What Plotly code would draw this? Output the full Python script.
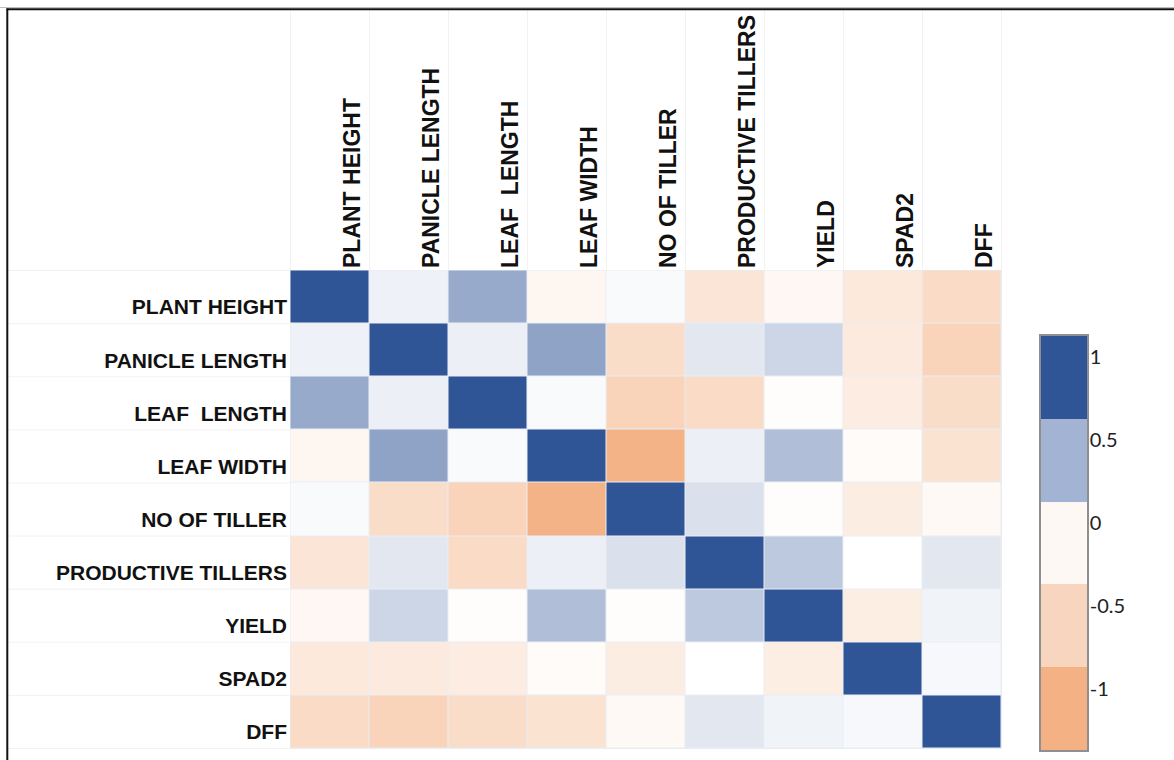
import plotly.graph_objects as go

# Trait names (rows and columns of the correlation matrix)
traits = [
    "PLANT HEIGHT", "PANICLE LENGTH", "LEAF\u00a0\u00a0LENGTH", "LEAF WIDTH",
    "NO OF TILLER", "PRODUCTIVE TILLERS", "YIELD", "SPAD2", "DFF",
]

# Pairwise correlation coefficients
corr = [
    [1.00, 0.08, 0.50, -0.12, 0.03, -0.33, -0.10, -0.28, -0.46],
    [0.08, 1.00, 0.09, 0.54, -0.44, 0.14, 0.24, -0.27, -0.55],
    [0.50, 0.09, 1.00, 0.03, -0.56, -0.46, -0.03, -0.24, -0.44],
    [-0.12, 0.54, 0.03, 1.00, -0.97, 0.09, 0.38, -0.05, -0.36],
    [0.03, -0.44, -0.56, -0.97, 1.00, 0.18, -0.03, -0.23, -0.08],
    [-0.33, 0.14, -0.46, 0.09, 0.18, 1.00, 0.32, 0.00, 0.14],
    [-0.10, 0.24, -0.03, 0.38, -0.03, 0.32, 1.00, -0.22, 0.07],
    [-0.28, -0.27, -0.24, -0.05, -0.23, 0.00, -0.22, 1.00, 0.04],
    [-0.46, -0.55, -0.44, -0.36, -0.08, 0.14, 0.07, 0.04, 1.00],
]

# Key: band values, labels and fills
key_values = [1, 0.5, 0, -0.5, -1]
key_labels = ["1", "0.5", "0", "-0.5", "-1"]
key_colors = ["#2F5597", "#A3B3D3", "#FDF8F4", "#F8D5BE", "#F4B183"]

W, H = 1174, 760


def px_x(p):
    return p / W


def px_y(p):
    return (H - p) / H


main_scale = [[0.0, "#F4B183"], [0.5, "#FFFFFF"], [1.0, "#2F5597"]]

# stepped scale for the key bands (values -1..1 -> 0..1)
key_scale = []
ordered = sorted(zip(key_values, key_colors))
n = len(ordered)
for i, (_, c) in enumerate(ordered):
    key_scale.append([i / n, c])
    key_scale.append([(i + 1) / n, c])

fig = go.Figure()

fig.add_trace(go.Heatmap(
    z=corr, x=traits, y=traits,
    colorscale=main_scale, zmin=-1, zmax=1,
    xgap=1, ygap=1, showscale=False,
    hovertemplate="%{y} / %{x}: %{z}<extra></extra>",
))

fig.add_trace(go.Heatmap(
    z=[[v] for v in key_values], x=[0], y=key_values,
    colorscale=key_scale, zmin=-1.25, zmax=1.25,
    showscale=False, xaxis="x2", yaxis="y2", hoverinfo="skip",
))

# faint sheet gridlines around the matrix
shapes = []
for i in range(len(traits) + 1):
    shapes.append(dict(type="line", xref="x", yref="paper",
                       x0=i - 0.5, x1=i - 0.5, y0=px_y(270), y1=px_y(10),
                       line=dict(color="#F2F2F2", width=1), layer="below"))
    shapes.append(dict(type="line", xref="paper", yref="y",
                       x0=px_x(8), x1=px_x(290), y0=i - 0.5, y1=i - 0.5,
                       line=dict(color="#F2F2F2", width=1), layer="below"))

# page frame
shapes.append(dict(type="line", xref="paper", yref="paper",
                   x0=0, x1=1, y0=px_y(7.5), y1=px_y(7.5),
                   line=dict(color="#BDBDBD", width=1)))
shapes.append(dict(type="line", xref="paper", yref="paper",
                   x0=px_x(6.5), x1=1, y0=px_y(9.2), y1=px_y(9.2),
                   line=dict(color="#111111", width=2)))
shapes.append(dict(type="line", xref="paper", yref="paper",
                   x0=px_x(7.3), x1=px_x(7.3), y0=0, y1=px_y(8.5),
                   line=dict(color="#111111", width=2)))

label_font = dict(family="Liberation Sans, Arial, sans-serif",
                  color="#111111", weight="bold")

fig.update_layout(
    width=W, height=H,
    margin=dict(l=0, r=0, t=0, b=0),
    paper_bgcolor="white", plot_bgcolor="#E9EDF3",
    shapes=shapes,
    xaxis=dict(
        domain=[px_x(290), px_x(1002)], side="top", tickangle=-90,
        showgrid=False, zeroline=False, ticks="", automargin=False,
        tickfont=dict(size=23, **label_font),
        ticklabelshift=23, ticklabelstandoff=1,
        anchor="y",
    ),
    yaxis=dict(
        domain=[px_y(749), px_y(270)],
        categoryorder="array", categoryarray=traits[::-1],
        showgrid=False, zeroline=False, ticks="", automargin=False,
        tickfont=dict(size=21, **label_font),
        ticklabelshift=10, ticklabelstandoff=2,
        anchor="x",
    ),
    xaxis2=dict(
        domain=[px_x(1041), px_x(1087)], anchor="y2",
        showticklabels=False, showgrid=False, zeroline=False,
        showline=True, mirror=True, linecolor="#8F8F8F", linewidth=1.5,
        range=[-0.5, 0.5],
    ),
    yaxis2=dict(
        domain=[px_y(750), px_y(336)], anchor="x2", side="right",
        tickvals=key_values, ticktext=key_labels,
        showgrid=False, zeroline=False, ticks="",
        showline=True, mirror=True, linecolor="#8F8F8F", linewidth=1.5,
        range=[-1.25, 1.25],
        tickfont=dict(family="Lato, sans-serif", size=20, color="#222222"),
        ticklabelshift=-20, ticklabelstandoff=-3,
    ),
)

fig.write_html("out.html")
